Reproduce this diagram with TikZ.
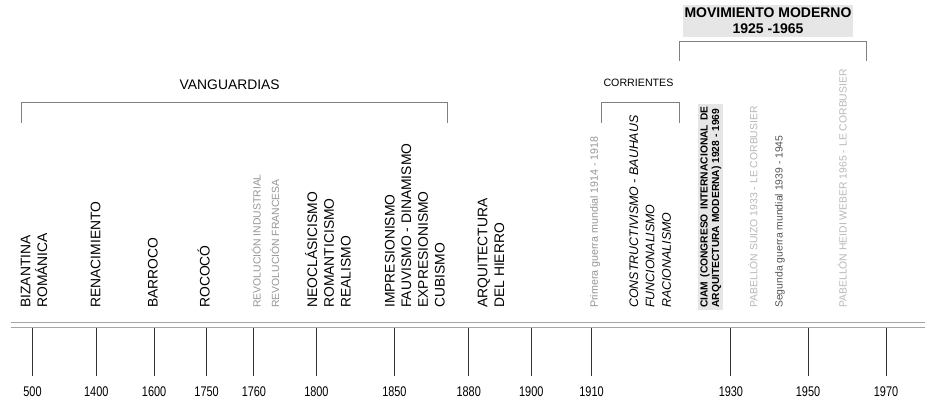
\documentclass[tikz,border=0pt]{standalone}
\usepackage{fontspec}
\setmainfont{Liberation Sans}
\newfontfamily\narrowfont[FakeStretch=0.78]{Liberation Sans}
\definecolor{lgray}{RGB}{150,150,150}
\definecolor{vlgray}{RGB}{185,185,185}
\definecolor{dgray}{RGB}{85,85,85}
\definecolor{boxgray}{RGB}{230,230,230}
\definecolor{linegray}{RGB}{128,128,128}
\definecolor{axisgray}{RGB}{165,165,165}
\tikzset{
      epoca/.style={rotate=90, anchor=base west, inner sep=0, align=left,
            font=\fontsize{10.4}{12.5}\selectfont},
      evento/.style={rotate=90, anchor=base west, inner sep=0,
            font=\fontsize{7.8}{9.4}\selectfont},
      llave/.style={draw=linegray, line width=0.75pt},
      eje/.style={draw=axisgray, line width=0.75pt},
      marca/.style={draw=black!80, line width=0.75pt},
      anio/.style={font=\narrowfont\fontsize{10.5}{12}\selectfont, inner sep=0},
      titulo/.style={font=\fontsize{10.4}{12.5}\selectfont, inner sep=0},
}

\begin{document}
\begin{tikzpicture}[x=0.75pt, y=-0.75pt]

        \useasboundingbox[fill=white] (0,0) rectangle (925,401);

        \node[titulo] (vanguardias) at (229.7,84.7) {VANGUARDIAS};
        \node[titulo, font=\fontsize{8}{9.6}\selectfont] (corrientes) at (638.5,82.7) {CORRIENTES};
        \node[titulo, font=\bfseries\fontsize{10.5}{12}\selectfont, align=center, fill=boxgray,
              inner xsep=1.5pt, inner ysep=2.4pt] (moderno) at (768,21) {MOVIMIENTO MODERNO\\1925 -1965};

        \coordinate (vanA) at (21,123);
        \coordinate (vanB) at (447,123);
        \coordinate (corA) at (601,123);
        \coordinate (corB) at (679,123);
        \coordinate (modA) at (679,61);
        \coordinate (modB) at (866,61);
        \draw[llave] (vanA) -- ++(0,-21) -| (vanB);
        \draw[llave] (corA) -- ++(0,-21) -| (corB);
        \draw[llave] (modA) -- ++(0,-20) -| (modB);

        \node[epoca] (bizantina) at (47,308) {BIZANTINA\\ROMÁNICA};
        \node[epoca] (renacimiento) at (100.3,308) {RENACIMIENTO};
        \node[epoca] (barroco) at (157.5,308) {BARROCO};
        \node[epoca] (rococo) at (209.5,308) {ROCOCÓ};
        \node[evento, text=lgray] (revind) at (260.7,308) {REVOLUCIÓN INDUSTRIAL};
        \node[evento, text=lgray] (revfra) at (279.2,308) {REVOLUCIÓN FRANCESA};
        \node[epoca] (neoclasicismo) at (350.5,308) {NEOCLÁSICISMO\\ROMANTICISMO\\REALISMO};
        \node[epoca] (impresionismo) at (444.5,308) {IMPRESIONISMO\\FAUVISMO - DINAMISMO\\EXPRESIONISMO\\CUBISMO};
        \node[epoca] (hierro) at (504,308) {ARQUITECTURA\\DEL HIERRO};
        \node[evento, text=lgray, font=\fontsize{8}{9.6}\selectfont] (primera) at (597.8,308) {Primera guerra mundial 1914 - 1918};
        \node[epoca, font=\itshape\fontsize{9.3}{12.3}\selectfont] (constructivismo) at (670.8,308)
              {CONSTRUCTIVISMO - BAUHAUS\\FUNCIONALISMO\\RACIONALISMO};
        \node[evento, font=\bfseries\fontsize{7.7}{8.8}\selectfont, fill=boxgray, text width=151pt,
              align=justify, inner xsep=1.5pt, inner ysep=1.4pt] (ciam) at (707.5,310)
              {CIAM (CONGRESO INTERNACIONAL DE\linebreak ARQUITECTURA MODERNA) 1928 - 1969};
        \node[evento, text=vlgray] (suizo) at (757.4,308) {PABELLÓN SUIZO 1933 - LE CORBUSIER};
        \node[evento, text=dgray] (segunda) at (782.7,308) {Segunda guerra mundial 1939 - 1945};
        \node[evento, text=vlgray] (heidi) at (846.7,308) {PABELLÓN HEIDI WEBER 1965 - LE CORBUSIER};

        \coordinate (ejeA) at (11,322.7);
        \coordinate (ejeB) at (925,322.7);
        \coordinate (ejeC) at (11,327.3);
        \coordinate (ejeD) at (925,327.3);
        \draw[eje] (ejeA) -- (ejeB);
        \draw[eje] (ejeC) -- (ejeD);

        \foreach \x/\fecha in {32.5/500, 96.3/1400, 154.1/1600, 206.6/1750, 253.9/1760,
              316.4/1800, 394.4/1850, 468.7/1880, 531.3/1900, 591.5/1910, 730.9/1930,
              808/1950, 886/1970} {
              \coordinate (t\fecha) at (\x,328);
              \node[anio] (a\fecha) at (\x,392) {\fecha};
              \draw[marca] (t\fecha) -- (\x,376);
        }

\end{tikzpicture}
\end{document}
